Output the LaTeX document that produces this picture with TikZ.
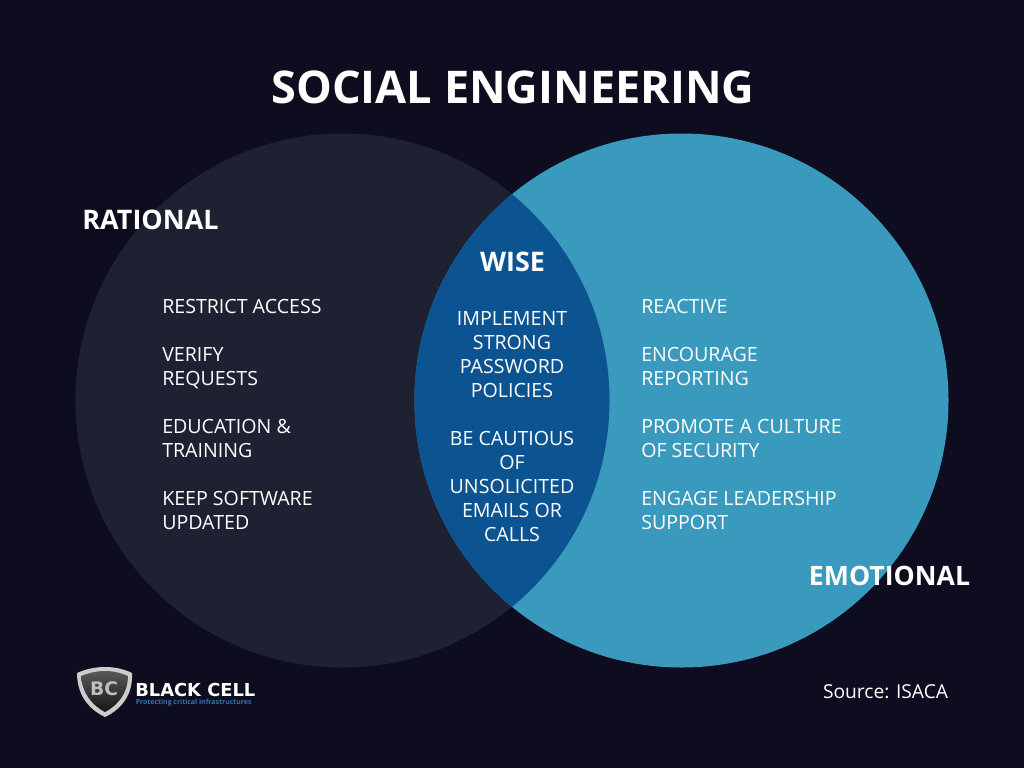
\documentclass[tikz,border=0pt]{standalone}
\usepackage{fontspec}
\setmainfont{Open Sans}
\newfontfamily\logofont{DejaVu Sans}
\usepackage{xcolor}
\usetikzlibrary{positioning}
\definecolor{night}{HTML}{0D0D1F}
\definecolor{slate}{HTML}{1D2131}
\definecolor{teal}{HTML}{399ABD}
\definecolor{deep}{HTML}{0C5391}
\definecolor{tagblue}{HTML}{2E75B6}

\begin{document}
\begin{tikzpicture}[x=0.75pt,y=-0.75pt,node distance=19.5pt,
  item/.style={text=white,align=left,anchor=north west,inner sep=0pt,execute at begin node=\strut,execute at end node=\strut,font=\fontsize{14.7}{18}\selectfont},
  wiseitem/.style={text=white,align=center,anchor=north,inner sep=0pt,execute at begin node=\strut,execute at end node=\strut,font=\fontsize{14.7}{18}\selectfont},
  head/.style={text=white,inner sep=0pt,font=\fontsize{20.2}{24}\selectfont\bfseries}]
\fill[night] (0,0) rectangle (1024,768);
\fill[slate] (342.5,400.5) circle (267);
\fill[teal] (681.5,400.5) circle (267);
\begin{scope}
\clip (342.5,400.5) circle (267);
\fill[deep] (681.5,400.5) circle (267);
\end{scope}
\node[text=white,inner sep=0pt,font=\fontsize{33.8}{40}\selectfont\bfseries] (title) at (513,87) {SOCIAL ENGINEERING};
\node[head] (rational) at (150.5,220) {RATIONAL};
\node[head] (wise) at (512.5,262) {WISE};
\node[head,font=\fontsize{20}{24}\selectfont\bfseries] (emotional) at (889.5,576) {EMOTIONAL};
% left column
\node[item] (access) at (162,296) {RESTRICT ACCESS};
\node[item,below=20.2pt of access.south west,anchor=north west] (verify) {VERIFY\\REQUESTS};
\node[item,below=of verify.south west,anchor=north west] (training) {EDUCATION \&\\TRAINING};
\node[item,below=of training.south west,anchor=north west] (update) {KEEP SOFTWARE\\UPDATED};
% middle column
\node[wiseitem] (password) at (512,311) {IMPLEMENT\\STRONG\\PASSWORD\\POLICIES};
\node[wiseitem,below=of password.south,anchor=north] (cautious) {BE CAUTIOUS\\OF\\UNSOLICITED\\EMAILS OR\\CALLS};
% right column
\node[item] (reactive) at (641,296) {REACTIVE};
\node[item,below=20.2pt of reactive.south west,anchor=north west] (report) {ENCOURAGE\\REPORTING};
\node[item,below=of report.south west,anchor=north west] (culture) {PROMOTE A CULTURE\\OF SECURITY};
\node[item,below=of culture.south west,anchor=north west] (leader) {ENGAGE LEADERSHIP\\SUPPORT};
\node[text=white,inner sep=0pt,font=\fontsize{14.4}{16}\selectfont] (source) at (885.5,692) {Source: ISACA};
% logo
\fill[black!20] (105,667) .. controls (115,667) and (124,669) .. (132,673) .. controls (133,692) and (124,708) .. (105,717) .. controls (86,708) and (77,692) .. (77,673) .. controls (86,669) and (95,667) .. (105,667) -- cycle;
\shade[top color=black!65,bottom color=black!92] (105,671) .. controls (114,671) and (121,673) .. (128,676) .. controls (128,691) and (120,704) .. (105,712) .. controls (90,704) and (82,691) .. (81,676) .. controls (89,673) and (96,671) .. (105,671) -- cycle;
\node[text=black!25,inner sep=0pt,font=\logofont\fontsize{14}{16}\selectfont\bfseries] (mark) at (104,689) {BC};
\node[text=white,inner sep=0pt,anchor=west,font=\logofont\fontsize{13.4}{14}\selectfont\bfseries] (brand) at (135,690) {BLACK CELL};
\node[text=tagblue,inner sep=0pt,anchor=west,font=\fontsize{5.2}{6}\selectfont\bfseries] (tagline) at (135.5,703) {Protecting critical infrastructures};
\end{tikzpicture}
\end{document}
